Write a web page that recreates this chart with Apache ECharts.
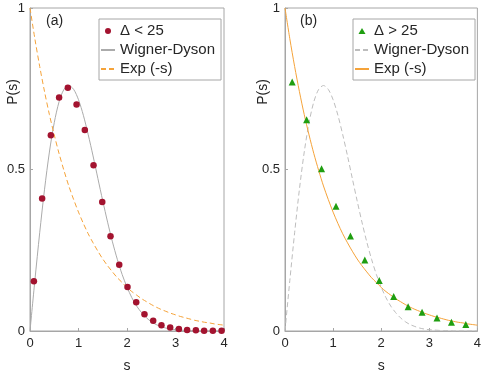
<!DOCTYPE html>
<html><head><meta charset="utf-8">
<script src="https://cdn.jsdelivr.net/npm/echarts@6/dist/echarts.min.js"></script>
<style>html,body{margin:0;padding:0;background:#fff}#c{width:484px;height:378px}</style>
</head><body><div id="c"></div>
<script>
// theory curves sampled at s = 0, 0.1, ..., 4
const sGrid = [0,0.1,0.2,0.3,0.4,0.5,0.6,0.7,0.8,0.9,1,1.1,1.2,1.3,1.4,1.5,1.6,1.7,1.8,1.9,2,2.1,2.2,2.3,2.4,2.5,2.6,2.7,2.8,2.9,3,3.1,3.2,3.3,3.4,3.5,3.6,3.7,3.8,3.9,4];
const wignerDyson = [0,0.156,0.304,0.439,0.554,0.645,0.710,0.748,0.760,0.748,0.716,0.668,0.608,0.542,0.472,0.403,0.337,0.276,0.222,0.175,0.136,0.103,0.077,0.057,0.041,0.029,0.020,0.014,0.009,0.006,0.004,0.003,0.002,0.001,0.001,0,0,0,0,0,0];
const expCurve = [1.000,0.905,0.819,0.741,0.670,0.607,0.549,0.497,0.449,0.407,0.368,0.333,0.301,0.273,0.247,0.223,0.202,0.183,0.165,0.150,0.135,0.122,0.111,0.100,0.091,0.082,0.074,0.067,0.061,0.055,0.050,0.045,0.041,0.037,0.033,0.030,0.027,0.025,0.022,0.020,0.018];
// panel (a): Delta < 25
const sA = [0.08,0.25,0.43,0.60,0.78,0.96,1.13,1.31,1.49,1.66,1.84,2.01,2.19,2.36,2.54,2.71,2.89,3.07,3.24,3.42,3.59,3.77,3.95];
const pA = [0.154,0.410,0.606,0.723,0.753,0.701,0.622,0.513,0.399,0.293,0.205,0.136,0.089,0.052,0.032,0.018,0.011,0.006,0.003,0.002,0.001,0.001,0.001];
// panel (b): Delta > 25
const sB = [0.15,0.45,0.76,1.06,1.36,1.66,1.96,2.26,2.56,2.85,3.16,3.46,3.76];
const pB = [0.771,0.654,0.502,0.386,0.294,0.220,0.156,0.107,0.075,0.058,0.040,0.027,0.020];
const xTicks = [0,1,2,3,4];
const yTicks = [0,0.5,1];

const FONT = 'Liberation Sans, Arial, Helvetica, sans-serif';
const AX = '#a6a6a6';
const TXT = '#262626';
const RED = '#a3132f';
const GREEN = '#1f9e10';
const ORANGE = '#f5a33a';
const GRAY = '#ababab';

const zip = (a,b) => a.map((v,i)=>[v,b[i]]);

function xAx(gi){
  return {gridIndex:gi,type:'value',min:0,max:4,interval:1,
    name:'s',nameLocation:'middle',nameGap:28,
    nameTextStyle:{fontFamily:FONT,fontSize:14,color:TXT},
    axisLine:{lineStyle:{color:AX}},
    axisTick:{inside:true,length:3,lineStyle:{color:AX}},
    axisLabel:{fontFamily:FONT,fontSize:13,color:TXT,margin:6,
      formatter:v=>xTicks.includes(v)?String(v):''},
    splitLine:{show:false}};
}
function yAx(gi){
  return {gridIndex:gi,type:'value',min:0,max:1,interval:0.5,
    axisLine:{lineStyle:{color:AX}},
    axisTick:{inside:true,length:3,lineStyle:{color:AX}},
    axisLabel:{fontFamily:FONT,fontSize:13,color:TXT,margin:5,
      formatter:v=>yTicks.includes(v)?String(v):''},
    splitLine:{show:false}};
}
function legend(left,items){
  return {orient:'vertical',left:left,top:19,data:items,
    borderColor:AX,borderWidth:1,backgroundColor:'#fff',
    padding:[4,6,3,1],itemGap:3,itemWidth:14,itemHeight:6,
    selectedMode:false,symbolKeepAspect:true,
    textStyle:{fontFamily:FONT,fontSize:15,color:TXT,lineHeight:16},
    formatter:n=>n.replace(/^[ab]:/,'')};
}
const lineItem = n => ({name:n,itemStyle:{opacity:0,borderWidth:0}});

const option = {
  animation:false,
  backgroundColor:'#fff',
  grid:[
    {left:30,top:8,width:194,height:332,show:true,borderColor:AX,borderWidth:1},
    {left:285,top:8,width:194,height:332,show:true,borderColor:AX,borderWidth:1}
  ],
  xAxis:[xAx(0),xAx(1)],
  yAxis:[yAx(0),yAx(1)],
  legend:[
    legend(99,[{name:'a:\u0394 < 25',icon:'circle'},lineItem('a:Wigner-Dyson'),lineItem('a:Exp (-s)')]),
    legend(353,[{name:'b:\u0394 > 25',icon:'path://M5,0L10,8.5L0,8.5Z'},lineItem('b:Wigner-Dyson'),lineItem('b:Exp (-s)')])
  ],
  graphic:[
    {type:'text',left:46,top:14,style:{text:'(a)',font:'14px '+FONT,fill:TXT}},
    {type:'text',left:300,top:14,style:{text:'(b)',font:'14px '+FONT,fill:TXT}},
    {type:'text',x:13,y:92,rotation:Math.PI/2,style:{text:'P(s)',font:'14px '+FONT,fill:TXT,align:'center',verticalAlign:'middle'}},
    {type:'text',x:263,y:92,rotation:Math.PI/2,style:{text:'P(s)',font:'14px '+FONT,fill:TXT,align:'center',verticalAlign:'middle'}}
  ],
  series:[
    {name:'a:Wigner-Dyson',type:'line',xAxisIndex:0,yAxisIndex:0,data:zip(sGrid,wignerDyson),
      showSymbol:false,symbol:'none',smooth:0.3,lineStyle:{color:GRAY,width:1},itemStyle:{color:GRAY},z:2},
    {name:'a:Exp (-s)',type:'line',xAxisIndex:0,yAxisIndex:0,data:zip(sGrid,expCurve),
      showSymbol:false,symbol:'none',smooth:0.3,lineStyle:{color:ORANGE,width:1,type:[5,3]},itemStyle:{color:ORANGE},z:2},
    {name:'a:\u0394 < 25',type:'scatter',xAxisIndex:0,yAxisIndex:0,data:zip(sA,pA),
      symbol:'circle',symbolSize:6.5,itemStyle:{color:RED,opacity:1},z:3},
    {name:'b:Wigner-Dyson',type:'line',xAxisIndex:1,yAxisIndex:1,data:zip(sGrid,wignerDyson),
      showSymbol:false,symbol:'none',smooth:0.3,lineStyle:{color:'#bdbdbd',width:1,type:[5,3]},itemStyle:{color:'#bdbdbd'},z:2},
    {name:'b:Exp (-s)',type:'line',xAxisIndex:1,yAxisIndex:1,data:zip(sGrid,expCurve),
      showSymbol:false,symbol:'none',smooth:0.3,lineStyle:{color:ORANGE,width:1},itemStyle:{color:ORANGE},z:2},
    {name:'b:\u0394 > 25',type:'scatter',xAxisIndex:1,yAxisIndex:1,data:zip(sB,pB),
      symbol:'triangle',symbolSize:7,itemStyle:{color:GREEN,opacity:1},z:3}
  ]
};
const chart = echarts.init(document.getElementById('c'),null,{renderer:'canvas'});
chart.setOption(option);
</script></body></html>
